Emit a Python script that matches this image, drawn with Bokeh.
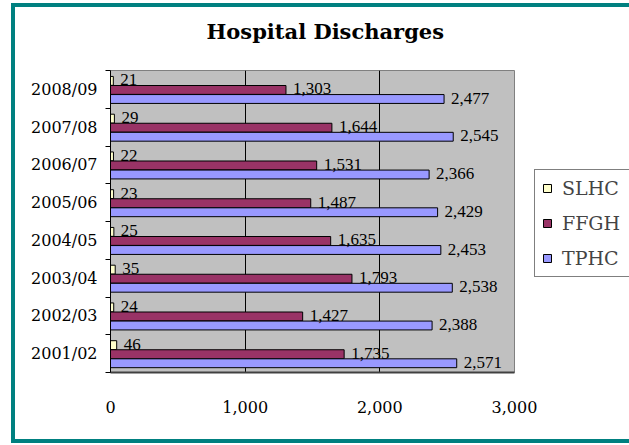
import numpy as np
from bokeh.plotting import figure
from bokeh.models import (ColumnDataSource, Range1d, FixedTicker, NumeralTickFormatter,
                          LabelSet, Legend, LegendItem, Title)
from bokeh.embed import file_html
from bokeh.resources import INLINE

# ---- data ----
years = ["2001/02", "2002/03", "2003/04", "2004/05", "2005/06", "2006/07", "2007/08", "2008/09"]
tphc = [2571, 2388, 2538, 2453, 2429, 2366, 2545, 2477]
ffgh = [1735, 1427, 1793, 1635, 1487, 1531, 1644, 1303]
slhc = [46, 24, 35, 25, 23, 22, 29, 21]
series_names = ["SLHC", "FFGH", "TPHC"]
x_ticks = [0, 1000, 2000, 3000]

values = {"SLHC": slhc, "FFGH": ffgh, "TPHC": tphc}
colors = {"SLHC": "#FFFFCC", "FFGH": "#993366", "TPHC": "#9999FF"}
offsets = {"SLHC": 0.225, "FFGH": -0.015, "TPHC": -0.255}

FONT = "DejaVu Serif"
TEAL = "#008080"

p = figure(frame_width=404, frame_height=302, output_backend="svg", toolbar_location=None,
           x_range=Range1d(0, 3000), y_range=Range1d(0, len(years)),
           min_border_left=95, min_border_right=115, min_border_top=63, min_border_bottom=67)
p.styles = {"box-shadow": f"0 0 0 4px {TEAL}", "margin-top": "7px", "margin-left": "15px"}

p.background_fill_color = "#C0C0C0"
p.border_fill_color = "white"
p.outline_line_color = "#808080"
p.outline_line_width = 1

# spacer between title and plot area, then the title itself
p.add_layout(Title(text=" ", text_font_size="1px", standoff=24), "above")
p.add_layout(Title(text="Hospital Discharges", text_font=FONT, text_font_size="21px",
                   text_font_style="bold", text_color="black", align="left",
                   offset=96, standoff=0), "above")

centers = np.arange(len(years)) + 0.5

# y axis: labels at category centres, ticks at category boundaries
yax = p.yaxis[0]
yax.ticker = FixedTicker(ticks=list(centers), minor_ticks=list(range(len(years) + 1)))
yax.major_label_overrides = {float(c): y for c, y in zip(centers, years)}
yax.major_tick_line_color = None
yax.major_tick_out = 0
yax.major_tick_in = 0
yax.minor_tick_out = 5
yax.minor_tick_in = 0
yax.minor_tick_line_color = "black"
yax.axis_line_color = "black"
yax.major_label_standoff = 8
yax.major_label_text_font = FONT
yax.major_label_text_font_size = "16px"
yax.major_label_text_color = "black"

xax = p.xaxis[0]
xax.ticker = FixedTicker(ticks=x_ticks)
xax.formatter = NumeralTickFormatter(format="0,0")
xax.axis_line_color = "#404040"
xax.axis_line_width = 2
xax.major_tick_out = 0
xax.major_tick_in = 0
xax.minor_tick_line_color = None
xax.major_label_standoff = 28
xax.major_label_text_font = FONT
xax.major_label_text_font_size = "16px"
xax.major_label_text_color = "black"

p.xgrid.ticker = FixedTicker(ticks=x_ticks)
p.xgrid.grid_line_color = "black"
p.ygrid.visible = False

renderers = {}
for name in series_names:
    vals = values[name]
    src = ColumnDataSource(dict(y=centers + offsets[name], v=vals,
                                lbl=[f"{v:,}" for v in vals]))
    renderers[name] = p.hbar(y="y", left=0, right="v", height=0.235, source=src,
                             fill_color=colors[name], line_color="black", line_width=1)
    p.add_layout(LabelSet(x="v", y="y", text="lbl", source=src, x_offset=7,
                          y_offset=1, text_baseline="middle", text_align="left",
                          text_font=FONT, text_font_size="17px", text_color="black"))

legend = Legend(items=[LegendItem(label=n, renderers=[renderers[n]]) for n in series_names],
                location=(20, 95), orientation="vertical",
                glyph_width=10, glyph_height=10, label_standoff=10, label_width=60,
                label_height=22, spacing=13, padding=7, margin=0,
                label_text_font=FONT, label_text_font_size="19px",
                border_line_color="black", border_line_width=1,
                background_fill_color="white", background_fill_alpha=1)
p.add_layout(legend, "right")

open("out.html", "w").write(file_html(p, INLINE))
